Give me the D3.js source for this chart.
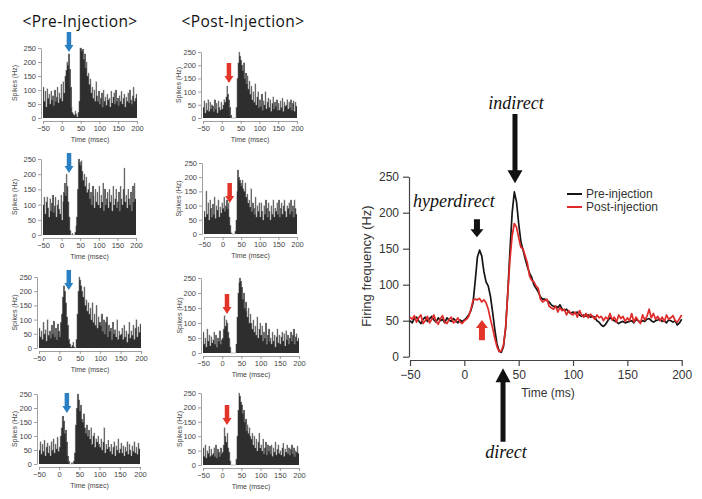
<!DOCTYPE html>
<html><head><meta charset="utf-8">
<script src="https://cdn.jsdelivr.net/npm/d3@7"></script>
<style>html,body{margin:0;padding:0;background:#fff;} svg{display:block}</style>
</head><body>
<script>
// ---------------- DATA ----------------
const histBinStart = -50, histBinWidth = 2.5;
const histTicksX = [-50, 0, 50, 100, 150, 200];
const histTicksY = [0, 50, 100, 150, 200, 250];
const columnTitles = ["<Pre-Injection>", "<Post-Injection>"];

const preInj1 = [
 110,60,95,40,105,70,85,50,95,65,
 80,45,100,60,75,110,55,90,70,120,
 60,130,90,150,170,200,190,230,175,110,
 40,20,15,10,25,15,5,20,60,250,
 250,240,245,210,230,180,200,150,160,120,
 140,90,110,70,100,60,130,80,60,95,
 50,70,90,40,100,60,75,45,85,65,
 70,40,95,55,75,90,50,100,60,70,
 45,80,60,95,50,70,85,40,75,60,
 90,55,100,65,50,80,110,60,70,85];
const preInj2 = [
 100,125,70,110,125,90,60,120,80,105,
 130,75,95,125,60,100,115,85,70,130,
 50,110,140,170,130,200,160,110,60,15,
 0,5,0,0,10,30,60,150,250,240,
 230,245,210,180,200,160,190,140,150,170,
 120,140,100,160,130,90,150,110,140,100,
 160,90,130,110,170,80,150,100,120,140,
 90,150,110,130,80,160,100,120,150,90,
 110,140,80,160,120,100,150,220,110,130,
 90,150,120,100,140,80,160,110,170,120];
const preInj3 = [
 70,40,60,30,90,50,65,25,100,45,
 60,35,80,50,95,40,70,30,85,60,
 40,90,120,180,220,200,160,110,80,30,
 15,5,10,20,5,0,30,120,200,250,
 240,220,200,180,215,150,170,130,160,120,
 140,100,160,90,120,80,150,70,110,90,
 80,120,60,100,50,90,110,40,80,60,
 70,30,90,50,65,40,100,30,60,45,
 50,70,30,80,40,60,20,50,90,35,
 60,45,80,30,70,100,40,75,55,85];
const preInj4 = [
 50,80,35,70,45,85,30,60,75,40,
 65,30,80,50,90,40,70,55,95,45,
 60,100,130,170,155,110,120,80,30,10,
 0,0,5,0,10,40,140,200,250,230,
 190,210,160,150,180,130,110,140,100,120,
 90,130,70,100,110,60,90,80,100,70,
 60,90,50,80,130,40,70,55,85,60,
 45,70,35,60,80,30,65,50,90,40,
 55,75,40,65,30,60,45,80,35,70,
 50,30,65,45,80,40,60,35,75,55];
const postInj1 = [
 40,65,20,55,30,70,25,60,35,50,
 45,25,70,35,55,20,65,40,30,60,
 35,50,70,60,80,120,90,70,40,10,
 0,0,0,0,0,40,150,210,250,235,
 220,200,180,210,150,170,130,160,110,140,
 90,120,70,100,60,130,50,80,100,40,
 70,45,90,30,65,50,100,35,60,75,
 40,70,25,55,80,35,60,45,70,30,
 55,30,65,40,75,25,60,45,50,70,
 35,60,40,70,30,55,65,25,60,45];
const postInj2 = [
 80,60,150,70,110,50,120,90,60,105,
 70,130,55,100,85,120,60,95,75,110,
 90,130,80,100,120,90,110,60,30,5,
 0,0,0,10,50,150,225,200,190,180,
 170,190,160,150,180,130,140,110,120,95,
 160,80,110,90,70,130,60,100,80,110,
 60,110,80,50,100,70,120,90,60,110,
 80,50,100,70,120,60,90,80,110,70,
 120,60,90,110,70,100,120,80,60,100,
 90,110,70,120,80,100,60,120,90,70];
const postInj3 = [
 70,30,50,20,80,40,60,25,55,35,
 45,70,30,60,20,50,40,75,30,45,
 50,80,125,90,110,100,70,50,20,0,
 0,0,0,0,30,120,200,235,250,240,
 220,180,200,150,170,140,120,150,100,130,
 100,80,110,70,90,60,120,50,80,100,
 60,90,40,70,50,100,30,60,80,40,
 50,30,70,40,60,20,55,80,35,60,
 30,55,70,40,65,25,75,45,60,30,
 50,70,40,60,80,30,55,65,40,50];
const postInj4 = [
 60,30,70,25,50,40,65,30,55,35,
 40,60,30,70,25,55,45,30,60,40,
 45,70,130,100,80,110,60,45,15,0,
 0,0,0,0,20,100,190,250,240,220,
 210,180,190,150,160,120,140,110,130,100,
 90,110,70,100,60,90,50,80,110,60,
 70,50,90,40,60,80,35,70,50,65,
 40,70,30,60,45,80,35,55,70,40,
 50,35,60,75,30,55,45,70,40,60,
 35,55,70,40,60,30,50,45,65,40];

// arrow markers in the small panels (time, rate at arrow tip)
const panelArrowT = [19, 20, 23, 19, 19, 19, 12.5, 12.5];
const panelArrowV = [236, 204, 204, 182, 133, 109, 130, 139];

// population PSTH (2 ms steps from -50 ms)
const lineStart = -50, lineStep = 2;
const lineTicksX = [-50, 0, 50, 100, 150, 200];
const lineTicksY = [0, 50, 100, 150, 200, 250];
const seriesNames = ["Pre-injection", "Post-injection"];
const prePSTH = [
 50,47,53,55,50,46,52,55,49,53,
 56,51,48,54,50,52,47,54,51,49,
 53,50,47,51,49,51,54,58,64,75,
 105,138,148,140,118,104,98,84,62,38,
 18,8,6,14,40,90,148,200,229,215,
 185,160,148,136,125,116,110,100,95,90,
 83,80,80,78,76,72,70,70,68,72,
 66,64,66,62,60,62,60,62,58,56,
 58,56,58,55,56,55,50,48,44,42,
 45,50,54,52,50,48,46,48,49,47,
 48,49,50,47,52,50,48,50,49,52,
 53,50,48,50,51,52,49,50,47,51,
 50,48,50,44,47,52];
const postPSTH = [
 55,52,57,48,54,58,46,50,56,47,
 52,58,49,45,53,57,48,46,52,55,
 47,49,54,48,46,50,52,56,66,78,
 80,79,81,76,79,75,66,52,40,26,
 14,7,8,16,40,88,135,168,185,180,
 165,152,150,140,130,112,106,104,98,95,
 80,76,78,80,70,68,66,70,62,68,
 64,66,58,64,60,58,62,55,64,58,
 55,60,54,59,56,52,58,54,56,50,
 55,52,60,51,55,48,58,53,56,49,
 54,50,60,48,55,50,46,58,51,56,
 66,54,60,52,56,50,55,49,58,52,
 54,57,50,48,53,58];
const pathwayLabels = ["hyperdirect", "indirect", "direct"];

// ---------------- DRAWING ----------------
const W = 702, H = 499;
const sans = "'Liberation Sans', Arial, Helvetica, sans-serif";
const serif = "'Liberation Serif', 'Times New Roman', serif";
const svg = d3.select("body").append("svg").attr("width", W).attr("height", H)
  .style("background", "#fff");

function arrowPath(cx, tipY, tailY, shaftW, headW, headL) {
  const dir = tailY < tipY ? 1 : -1; // 1: pointing down
  const baseY = tipY - dir * headL;
  return `M${cx - shaftW/2},${tailY} L${cx + shaftW/2},${tailY} L${cx + shaftW/2},${baseY} ` +
         `L${cx + headW/2},${baseY} L${cx},${tipY} L${cx - headW/2},${baseY} L${cx - shaftW/2},${baseY} Z`;
}

// column titles
[[80, columnTitles[0]], [243, columnTitles[1]]].forEach(([cx, t]) => {
  svg.append("text").attr("x", cx).attr("y", 27).attr("text-anchor", "middle")
    .attr("font-family", "'Open Sans', sans-serif").attr("font-size", 15.5).attr("letter-spacing", 0.4)
    .attr("fill", "#111").text(t);
});

const panels = [
  {data: preInj1,  x0: 43,  x1: 137, y0: 118, y1: 48,  lx: 15,  col: "#2a80c2"},
  {data: preInj2,  x0: 43,  x1: 136, y0: 235, y1: 159, lx: 15,  col: "#2a80c2"},
  {data: preInj3,  x0: 39,  x1: 141, y0: 348, y1: 277, lx: 15,  col: "#2a80c2"},
  {data: preInj4,  x0: 39,  x1: 140, y0: 464, y1: 394, lx: 15,  col: "#2a80c2"},
  {data: postInj1, x0: 203, x1: 297, y0: 118, y1: 52,  lx: 179, col: "#e3342a"},
  {data: postInj2, x0: 204, x1: 297, y0: 234, y1: 163, lx: 179, col: "#e3342a"},
  {data: postInj3, x0: 203, x1: 299, y0: 353, y1: 278, lx: 180, col: "#e3342a"},
  {data: postInj4, x0: 203, x1: 299, y0: 465, y1: 393, lx: 180, col: "#e3342a"}
];

panels.forEach((p, k) => {
  const x = d3.scaleLinear([-50, 200], [p.x0, p.x1]);
  const y = d3.scaleLinear([0, 250], [p.y0, p.y1]).clamp(true);
  const g = svg.append("g");
  const bw = x(histBinWidth) - x(0);
  g.append("g").attr("shape-rendering", "crispEdges")
    .selectAll("rect").data(p.data).join("rect")
    .attr("x", (d, i) => x(histBinStart + i * histBinWidth))
    .attr("width", bw + 0.3)
    .attr("y", d => y(d))
    .attr("height", d => p.y0 - y(d))
    .attr("fill", (d, i) => "#2e2e2e");
  // lighter outline of the histogram tops
  const step = d3.line().curve(d3.curveStepAfter)
    .x((d, i) => x(histBinStart + i * histBinWidth)).y(d => y(d));
  g.append("path").datum(p.data.concat([p.data[p.data.length - 1]])).attr("d", step)
    .attr("fill", "none").attr("stroke", "#9a9a9a").attr("stroke-width", 0.6);
  const ya = g.append("g").attr("transform", `translate(${p.x0 - 2},0)`)
    .call(d3.axisLeft(y).tickValues(histTicksY).tickSize(3).tickSizeOuter(0).tickPadding(2));
  const xa = g.append("g").attr("transform", `translate(0,${p.y0 + 3})`)
    .call(d3.axisBottom(x).tickValues(histTicksX).tickSize(3).tickSizeOuter(0).tickPadding(1.5));
  [ya, xa].forEach(a => {
    a.attr("font-family", sans).attr("font-size", 7.5);
    a.selectAll("path,line").attr("stroke", "#777").attr("stroke-width", 0.7);
    a.selectAll("text").attr("fill", "#444");
  });
  g.append("text").attr("x", (p.x0 + p.x1) / 2).attr("y", p.y0 + 24)
    .attr("text-anchor", "middle").attr("font-family", sans).attr("font-size", 7)
    .attr("fill", "#444").text("Time (msec)");
  g.append("text").attr("transform", `translate(${p.lx},${(p.y0 + p.y1) / 2}) rotate(-90)`)
    .attr("text-anchor", "middle").attr("dy", "0.35em").attr("font-family", sans).attr("font-size", 7)
    .attr("fill", "#444").text("Spikes (Hz)");
  const ax = x(panelArrowT[k]), tip = y(panelArrowV[k]);
  g.append("path").attr("d", arrowPath(ax, tip, tip - 20, 4.5, 9, 7)).attr("fill", p.col);
});

// ---------- Right: population PSTH ----------
const lx = d3.scaleLinear([-50, 200], [410, 681.7]);
const ly = d3.scaleLinear([0, 250], [356.7, 176.7]);

const yAx = svg.append("g").attr("transform", "translate(409,0)")
  .call(d3.axisLeft(ly).tickValues(lineTicksY).tickSize(6).tickSizeOuter(0).tickPadding(4));
const xAx = svg.append("g").attr("transform", "translate(0,360)")
  .call(d3.axisBottom(lx).tickValues(lineTicksX).tickSize(6).tickSizeOuter(0).tickPadding(4));
[yAx, xAx].forEach(a => {
  a.attr("font-family", sans).attr("font-size", 12);
  a.selectAll("path,line").attr("stroke", "#444").attr("stroke-width", 1.2);
  a.selectAll("text").attr("fill", "#333");
});
svg.append("text").attr("x", 548).attr("y", 397).attr("text-anchor", "middle")
  .attr("font-family", sans).attr("font-size", 12).attr("fill", "#333").text("Time (ms)");
svg.append("text").attr("transform", "translate(366,266) rotate(-90)")
  .attr("text-anchor", "middle").attr("dy", "0.35em")
  .attr("font-family", sans).attr("font-size", 13).attr("fill", "#333").text("Firing frequency (Hz)");

const line = d3.line().x((d, i) => lx(lineStart + i * lineStep)).y(d => ly(d));
svg.append("path").datum(prePSTH).attr("d", line).attr("fill", "none")
  .attr("stroke", "#151515").attr("stroke-width", 1.7).attr("stroke-linejoin", "round");
svg.append("path").datum(postPSTH).attr("d", line).attr("fill", "none")
  .attr("stroke", "#e02a2a").attr("stroke-width", 1.7).attr("stroke-linejoin", "round");

// legend
const legendColors = ["#151515", "#e02a2a"];
seriesNames.forEach((n, i) => {
  const yy = 194 + i * 13;
  svg.append("line").attr("x1", 567).attr("x2", 582).attr("y1", yy).attr("y2", yy)
    .attr("stroke", legendColors[i]).attr("stroke-width", 2);
  svg.append("text").attr("x", 586).attr("y", yy).attr("dy", "0.35em")
    .attr("font-family", sans).attr("font-size", 12).attr("fill", "#333").text(n);
});

// pathway annotations
svg.append("text").attr("x", 413).attr("y", 207).attr("font-family", serif)
  .attr("font-style", "italic").attr("font-size", 18).attr("fill", "#111").text(pathwayLabels[0]);
svg.append("text").attr("x", 516).attr("y", 109).attr("text-anchor", "middle").attr("font-family", serif)
  .attr("font-style", "italic").attr("font-size", 18).attr("fill", "#111").text(pathwayLabels[1]);
svg.append("text").attr("x", 506).attr("y", 458).attr("text-anchor", "middle").attr("font-family", serif)
  .attr("font-style", "italic").attr("font-size", 18).attr("fill", "#111").text(pathwayLabels[2]);

// arrows on population PSTH
svg.append("path").attr("d", arrowPath(lx(46.6), ly(241), ly(337), 5, 15, 13)).attr("fill", "#111");
svg.append("path").attr("d", arrowPath(lx(11.6), ly(166), ly(191), 6, 13, 8)).attr("fill", "#111");
svg.append("path").attr("d", arrowPath(lx(16.2), ly(51), ly(23), 6, 12, 8)).attr("fill", "#e3342a");
svg.append("path").attr("d", arrowPath(lx(35.6), ly(-16), ly(-118), 5, 15, 14)).attr("fill", "#111");
</script>
</body></html>
